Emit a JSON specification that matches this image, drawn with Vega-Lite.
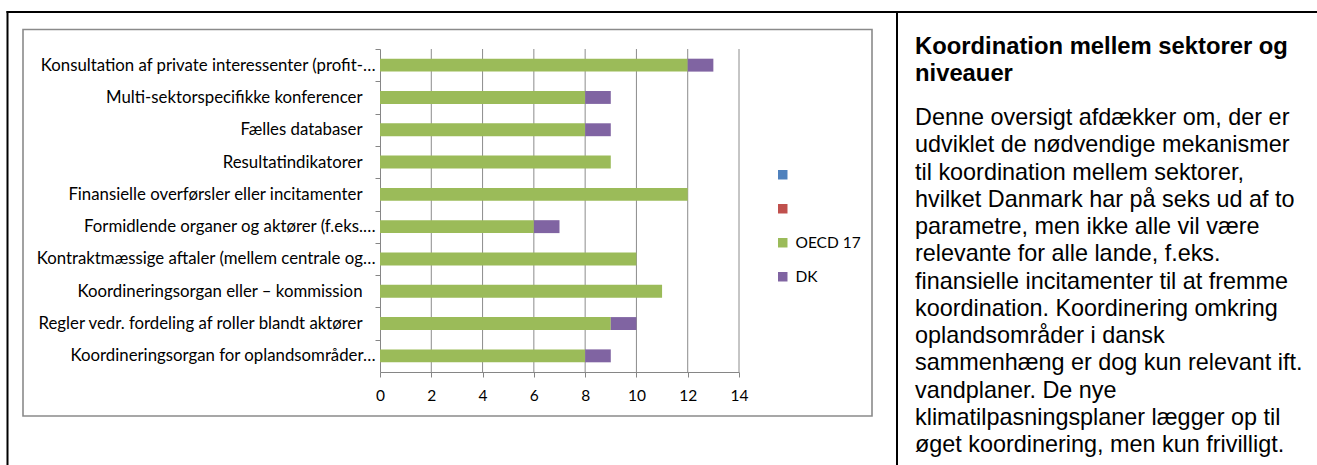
{
  "$schema": "https://vega.github.io/schema/vega-lite/v6.json",
  "width": 1317,
  "height": 465,
  "padding": 0,
  "autosize": {"type": "none"},
  "background": "white",
  "config": {"view": {"stroke": null}, "font": "Lato"},
  "resolve": {"scale": {"x": "independent", "y": "independent"}},
  "layer": [
    {
      "data": {"values": [{}]},
      "mark": {"type": "rule", "color": "#000000", "strokeWidth": 2},
      "encoding": {
        "x": {"datum": 0, "type": "quantitative", "scale": {"domain": [0, 1, 2], "range": [7.5, 897, 1317]}, "axis": null},
        "y": {"datum": 0, "type": "quantitative", "scale": {"domain": [0, 1], "range": [11, 465]}, "axis": null},
        "y2": {"datum": 1}
      }
    },
    {
      "data": {"values": [{}]},
      "mark": {"type": "rule", "color": "#000000", "strokeWidth": 2},
      "encoding": {
        "x": {"datum": 1, "type": "quantitative", "scale": {"domain": [0, 1, 2], "range": [7.5, 897, 1317]}, "axis": null},
        "y": {"datum": 0, "type": "quantitative", "scale": {"domain": [0, 1], "range": [11, 465]}, "axis": null},
        "y2": {"datum": 1}
      }
    },
    {
      "data": {"values": [{}]},
      "mark": {"type": "rule", "color": "#000000", "strokeWidth": 2},
      "encoding": {
        "x": {"datum": 0, "type": "quantitative", "scale": {"domain": [0, 1, 2], "range": [6.5, 897, 1317]}, "axis": null},
        "x2": {"datum": 2},
        "y": {"datum": 0, "type": "quantitative", "scale": {"domain": [0, 1], "range": [12, 465]}, "axis": null}
      }
    },
    {
      "data": {"values": [{}]},
      "mark": {"type": "rect", "fill": "transparent", "stroke": "#8a8a8a", "strokeWidth": 1.6},
      "encoding": {
        "x": {"datum": 0, "type": "quantitative", "scale": {"domain": [0, 1], "range": [23, 872]}, "axis": null},
        "x2": {"datum": 1},
        "y": {"datum": 0, "type": "quantitative", "scale": {"domain": [0, 1], "range": [29.5, 416]}, "axis": null},
        "y2": {"datum": 1}
      }
    },
    {
      "data": {"values": [{"tick": 2}, {"tick": 4}, {"tick": 6}, {"tick": 8}, {"tick": 10}, {"tick": 12}, {"tick": 14}]},
      "mark": {"type": "rule", "color": "#8c8c8c", "strokeWidth": 1},
      "encoding": {
        "x": {"field": "tick", "type": "quantitative", "scale": {"domain": [0, 14], "range": [380, 739], "nice": false}, "axis": null},
        "y": {"datum": 0, "type": "quantitative", "scale": {"domain": [0, 1], "range": [49, 372]}, "axis": null},
        "y2": {"datum": 1}
      }
    },
    {
      "data": {
        "values": [
          {"category": "Konsultation af private interessenter (profit-…", "series": "OECD 17", "value": 12},
          {"category": "Konsultation af private interessenter (profit-…", "series": "DK", "value": 1},
          {"category": "Multi-sektorspecifikke konferencer", "series": "OECD 17", "value": 8},
          {"category": "Multi-sektorspecifikke konferencer", "series": "DK", "value": 1},
          {"category": "Fælles databaser", "series": "OECD 17", "value": 8},
          {"category": "Fælles databaser", "series": "DK", "value": 1},
          {"category": "Resultatindikatorer", "series": "OECD 17", "value": 9},
          {"category": "Resultatindikatorer", "series": "DK", "value": 0},
          {"category": "Finansielle overførsler eller incitamenter", "series": "OECD 17", "value": 12},
          {"category": "Finansielle overførsler eller incitamenter", "series": "DK", "value": 0},
          {"category": "Formidlende organer og aktører (f.eks.…", "series": "OECD 17", "value": 6},
          {"category": "Formidlende organer og aktører (f.eks.…", "series": "DK", "value": 1},
          {"category": "Kontraktmæssige aftaler (mellem centrale og…", "series": "OECD 17", "value": 10},
          {"category": "Kontraktmæssige aftaler (mellem centrale og…", "series": "DK", "value": 0},
          {"category": "Koordineringsorgan eller – kommission", "series": "OECD 17", "value": 11},
          {"category": "Koordineringsorgan eller – kommission", "series": "DK", "value": 0},
          {"category": "Regler vedr. fordeling af roller blandt aktører", "series": "OECD 17", "value": 9},
          {"category": "Regler vedr. fordeling af roller blandt aktører", "series": "DK", "value": 1},
          {"category": "Koordineringsorgan for oplandsområder…", "series": "OECD 17", "value": 8},
          {"category": "Koordineringsorgan for oplandsområder…", "series": "DK", "value": 1}
        ]
      },
      "mark": {"type": "bar"},
      "encoding": {
        "y": {
          "field": "category",
          "type": "nominal",
          "sort": null,
          "scale": {"range": [49, 372], "paddingInner": 0.6, "paddingOuter": 0.3},
          "axis": {
            "orient": "left",
            "offset": -380,
            "title": null,
            "domainColor": "#868686",
            "tickColor": "#868686",
            "tickSize": 5,
            "tickOffset": -16.15,
            "labelOffset": 16.15,
            "labelFont": "Lato",
            "labelFontSize": 16.8,
            "labelColor": "#000000",
            "labelPadding": {"condition": {"test": "indexof(datum.value, '…') < 0", "value": 13}, "value": 0},
            "labelLimit": 0,
            "grid": false
          }
        },
        "x": {
          "field": "value",
          "type": "quantitative",
          "stack": "zero",
          "scale": {"domain": [0, 14], "range": [380, 739], "nice": false, "zero": true},
          "axis": {
            "orient": "bottom",
            "offset": -93,
            "title": null,
            "values": [0, 2, 4, 6, 8, 10, 12, 14],
            "grid": false,
            "domainColor": "#868686",
            "tickColor": "#868686",
            "tickSize": 5,
            "labelFont": "Lato",
            "labelFontSize": 15.5,
            "labelColor": "#000000",
            "labelPadding": 11,
            "labelFlush": false,
            "labelOverlap": false
          }
        },
        "color": {
          "field": "series",
          "type": "nominal",
          "scale": {"domain": ["s1", "s2", "OECD 17", "DK"], "range": ["#4F81BD", "#C0504D", "#9BBB59", "#8064A2"]},
          "legend": {
            "orient": "none",
            "legendX": 775,
            "legendY": 167,
            "padding": 0,
            "title": null,
            "symbolType": "square",
            "symbolSize": 90,
            "symbolStrokeWidth": 0,
            "labelFont": "Lato",
            "labelFontSize": 15.5,
            "labelColor": "#000000",
            "rowPadding": 17,
            "labelOffset": 5,
            "labelExpr": "datum.label == 's1' || datum.label == 's2' ? '' : datum.label"
          }
        },
        "order": {"field": "series", "sort": "descending"}
      }
    },
    {
      "data": {
        "values": [
          {"line": 1, "text": "Koordination mellem sektorer og"},
          {"line": 2, "text": "niveauer"}
        ]
      },
      "mark": {"type": "text", "font": "Liberation Sans", "fontSize": 23.8, "fontWeight": "bold", "align": "left", "baseline": "middle", "color": "#000000"},
      "encoding": {
        "x": {"datum": 0, "type": "quantitative", "scale": {"domain": [0, 1], "range": [915, 1317]}, "axis": null},
        "y": {"field": "line", "type": "quantitative", "scale": {"domain": [1, 2], "range": [47, 73.5]}, "axis": null},
        "text": {"field": "text"}
      }
    },
    {
      "data": {
        "values": [
          {"line": 1, "text": "Denne oversigt afdækker om, der er"},
          {"line": 2, "text": "udviklet de nødvendige mekanismer"},
          {"line": 3, "text": "til koordination mellem sektorer,"},
          {"line": 4, "text": "hvilket Danmark har på seks ud af to"},
          {"line": 5, "text": "parametre, men ikke alle vil være"},
          {"line": 6, "text": "relevante for alle lande, f.eks."},
          {"line": 7, "text": "finansielle incitamenter til at fremme"},
          {"line": 8, "text": "koordination. Koordinering omkring"},
          {"line": 9, "text": "oplandsområder i dansk"},
          {"line": 10, "text": "sammenhæng er dog kun relevant ift."},
          {"line": 11, "text": "vandplaner. De nye"},
          {"line": 12, "text": "klimatilpasningsplaner lægger op til"},
          {"line": 13, "text": "øget koordinering, men kun frivilligt."}
        ]
      },
      "mark": {"type": "text", "font": "Liberation Sans", "fontSize": 23.4, "align": "left", "baseline": "middle", "color": "#000000"},
      "encoding": {
        "x": {"datum": 0, "type": "quantitative", "scale": {"domain": [0, 1], "range": [915, 1317]}, "axis": null},
        "y": {"field": "line", "type": "quantitative", "scale": {"domain": [1, 13], "range": [118, 445]}, "axis": null},
        "text": {"field": "text"}
      }
    }
  ]
}
